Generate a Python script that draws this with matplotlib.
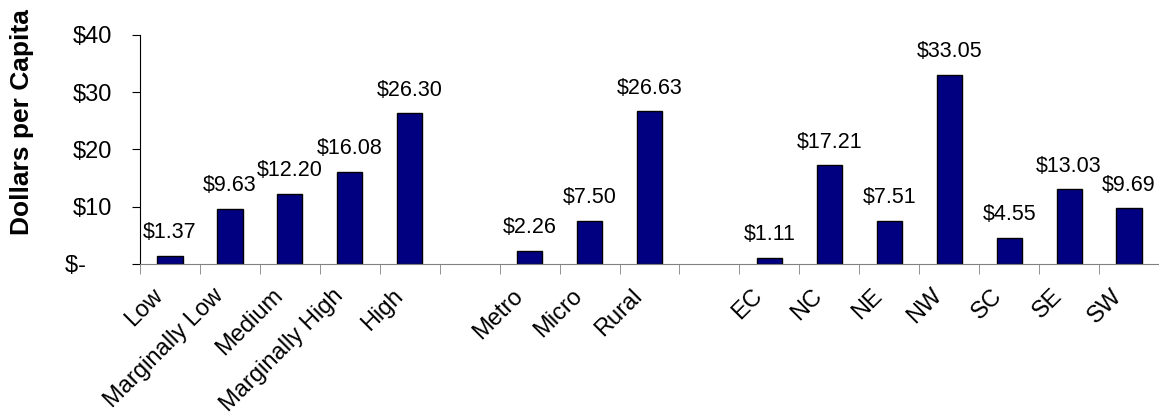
import numpy as np
import matplotlib.pyplot as plt

plt.rcParams['font.family'] = ['Liberation Sans', 'DejaVu Sans']

categories = ["Low", "Marginally Low", "Medium", "Marginally High", "High",
              "Metro", "Micro", "Rural",
              "EC", "NC", "NE", "NW", "SC", "SE", "SW"]
values = [1.37, 9.63, 12.20, 16.08, 26.30,
          2.26, 7.50, 26.63,
          1.11, 17.21, 7.51, 33.05, 4.55, 13.03, 9.69]
groups = [5, 3, 7]
y_ticks = [0, 10, 20, 30, 40]
y_labels = ["$-    ", "$10", "$20", "$30", "$40"]

# slot positions with one empty slot between groups
pos = []
start = 0
for n in groups:
    pos += list(range(start, start + n))
    start += n + 1
pos = np.array(pos)
n_slots = start - 1

fig = plt.figure(figsize=(11.59, 4.15), dpi=100)
ax = fig.add_axes([0.1208, 0.364, 0.8792, 0.552])

ax.bar(pos, values, width=0.42, color="#000080", edgecolor="black", linewidth=1)
for x, v in zip(pos, values):
    ax.text(x, v + 2.2, f"${v:.2f}", ha="center", va="bottom", fontsize=15.5)

ax.set_xlim(-0.5, n_slots - 0.5)
ax.set_ylim(0, 40)
ax.set_yticks(y_ticks)
ax.set_yticklabels(y_labels, fontsize=17)
ax.set_xticks(pos)
ax.set_xticklabels([])
ax.tick_params(axis="x", which="major", length=0)
ax.set_xticks(np.arange(n_slots + 1) - 0.5, minor=True)
ax.tick_params(axis="x", which="minor", length=7, color="#808080")
ax.tick_params(axis="y", length=6, pad=14)

# category labels, rotated and ending just left of each bar
for x, name in zip(pos, categories):
    ax.annotate(name, xy=(x, 0), xycoords=ax.get_xaxis_transform(),
                xytext=(-13, -15), textcoords="offset points",
                rotation=45, ha="right", va="top", rotation_mode="anchor",
                fontsize=17, annotation_clip=False)

ax.set_ylabel("Dollars per Capita", fontsize=19, fontweight="bold")
ax.yaxis.set_label_coords(-0.104, 0.62)

ax.spines["top"].set_visible(False)
ax.spines["right"].set_visible(False)
ax.spines["bottom"].set_color("#808080")

fig.savefig("out.png")
